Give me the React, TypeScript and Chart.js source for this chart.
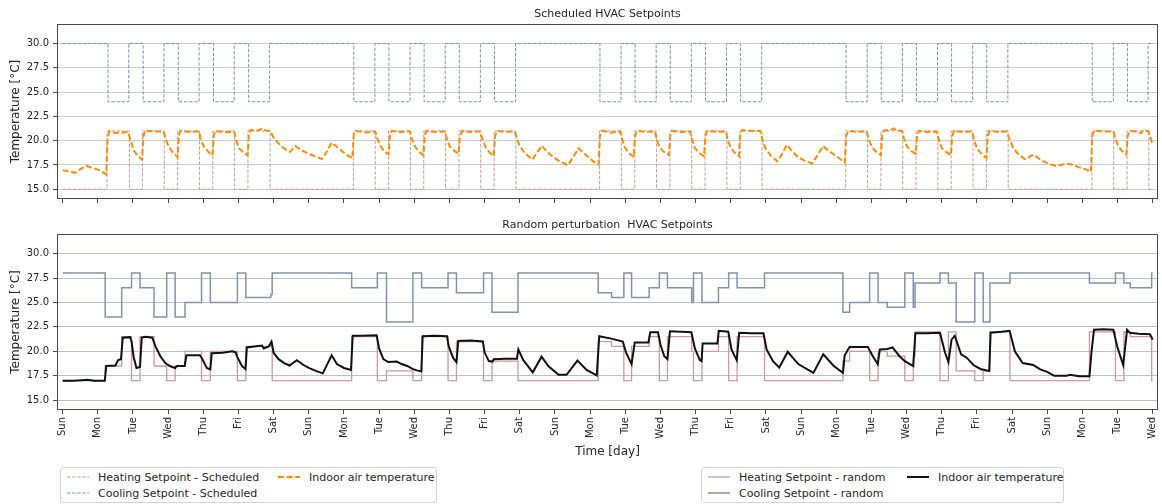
import React, { useEffect, useRef } from 'react';
import { Chart, registerables } from 'chart.js';

Chart.register(...registerables);

const FONT = "'DejaVu Sans', 'Liberation Sans', sans-serif";
const TEXT = '#262626';
const FRAME = '#4a4a4a';

// ---------- axis / tick data ----------
const dayTickLabels = [
  'Sun', 'Mon', 'Tue', 'Wed', 'Thu', 'Fri', 'Sat',
  'Sun', 'Mon', 'Tue', 'Wed', 'Thu', 'Fri', 'Sat',
  'Sun', 'Mon', 'Tue', 'Wed', 'Thu', 'Fri', 'Sat',
  'Sun', 'Mon', 'Tue', 'Wed', 'Thu', 'Fri', 'Sat',
  'Sun', 'Mon', 'Tue', 'Wed',
];
const tempTicks = [15, 17.5, 20, 22.5, 25, 27.5, 30];
const X_MIN = -0.16;
const X_MAX = 31.15;
const Y_MIN = 14;
const Y_MAX = 32;

// ---------- scheduled setpoints (time in days, value in °C) ----------
const heatSchedT = [0, 1.26, 1.9, 2.27, 2.89, 3.27, 3.89, 4.27, 4.89, 5.27, 5.9,
  8.27, 8.89, 9.27, 9.89, 10.27, 10.89, 11.27, 11.89, 12.27, 12.89,
  15.27, 15.89, 16.27, 16.89, 17.27, 17.89, 18.27, 18.89, 19.27, 19.89,
  22.27, 22.89, 23.27, 23.89, 24.27, 24.89, 25.27, 25.89, 26.27, 26.89,
  29.27, 29.89, 30.27, 30.89, 31.0];
const heatSchedV = [15, 21, 15, 21, 15, 21, 15, 21, 15, 21, 15,
  21, 15, 21, 15, 21, 15, 21, 15, 21, 15,
  21, 15, 21, 15, 21, 15, 21, 15, 21, 15,
  21, 15, 21, 15, 21, 15, 21, 15, 21, 15,
  21, 15, 21, 15, 15];
const coolSchedT = [0, 1.29, 1.88, 2.29, 2.88, 3.29, 3.88, 4.29, 4.88, 5.29, 5.88,
  8.28, 8.88, 9.28, 9.88, 10.28, 10.88, 11.28, 11.88, 12.28, 12.88,
  15.28, 15.88, 16.28, 16.88, 17.28, 17.88, 18.28, 18.88, 19.28, 19.88,
  22.28, 22.88, 23.28, 23.88, 24.28, 24.88, 25.28, 25.88, 26.28, 26.88,
  29.28, 29.88, 30.28, 30.87, 31.0];
const coolSchedV = [30, 24, 30, 24, 30, 24, 30, 24, 30, 24, 30,
  24, 30, 24, 30, 24, 30, 24, 30, 24, 30,
  24, 30, 24, 30, 24, 30, 24, 30, 24, 30,
  24, 30, 24, 30, 24, 30, 24, 30, 24, 30,
  24, 30, 24, 30, 30];

const indoorScheduled: number[][] = [
  [0, 16.97], [0.15, 16.85], [0.36, 16.7], [0.5, 17.05], [0.66, 17.43], [0.85, 17.2], [1.02, 17.0], [1.24, 16.55],
  [1.28, 20.3], [1.33, 20.95], [1.5, 20.8], [1.7, 20.85], [1.86, 20.9], [1.92, 20.2], [2.02, 19.0], [2.12, 18.5], [2.26, 18.05],
  [2.3, 20.5], [2.35, 21.0], [2.6, 20.95], [2.87, 20.95], [2.93, 20.2], [3.01, 19.45], [3.12, 18.85], [3.27, 18.3],
  [3.31, 20.6], [3.35, 21.0], [3.6, 20.9], [3.88, 20.95], [3.93, 20.1], [4.01, 19.45], [4.14, 18.85], [4.26, 18.5],
  [4.3, 20.5], [4.34, 21.0], [4.6, 20.85], [4.88, 20.9], [4.94, 20.0], [5.02, 19.2], [5.14, 18.8], [5.26, 18.5],
  [5.3, 20.6], [5.34, 21.1], [5.55, 21.05], [5.68, 21.25], [5.78, 21.05], [5.9, 21.0], [6.0, 20.3], [6.12, 19.8], [6.25, 19.35],
  [6.4, 18.95], [6.47, 18.85], [6.62, 19.45], [6.8, 19.0], [7.03, 18.6], [7.2, 18.35], [7.37, 18.1], [7.52, 18.9], [7.65, 19.8],
  [7.84, 19.25], [8.05, 18.6], [8.24, 18.2],
  [8.28, 20.6], [8.34, 21.0], [8.6, 20.85], [8.89, 20.95], [8.95, 20.2], [9.03, 19.5], [9.15, 18.9], [9.27, 18.6],
  [9.31, 20.6], [9.36, 21.0], [9.6, 20.9], [9.88, 20.95], [9.94, 20.1], [10.02, 19.4], [10.14, 18.85], [10.26, 18.5],
  [10.3, 20.6], [10.35, 21.0], [10.6, 20.9], [10.87, 20.95], [10.93, 20.1], [11.01, 19.4], [11.14, 18.95], [11.26, 18.65],
  [11.3, 20.5], [11.37, 21.0], [11.6, 20.9], [11.87, 20.95], [11.94, 20.1], [12.05, 19.2], [12.15, 18.75], [12.26, 18.4],
  [12.3, 20.5], [12.37, 21.0], [12.6, 20.9], [12.86, 20.95], [12.92, 20.2], [13.0, 19.45], [13.15, 18.7], [13.36, 18.05],
  [13.5, 18.8], [13.63, 19.5], [13.75, 18.95], [13.87, 18.55], [14.1, 17.95], [14.37, 17.47], [14.52, 18.3], [14.67, 19.22],
  [14.8, 18.8], [14.92, 18.4], [15.1, 17.85], [15.24, 17.55],
  [15.28, 20.5], [15.33, 21.0], [15.6, 20.85], [15.86, 20.95], [15.92, 20.1], [15.99, 19.3], [16.1, 18.75], [16.24, 18.3],
  [16.28, 20.5], [16.33, 21.0], [16.6, 20.9], [16.84, 20.95], [16.9, 20.1], [16.98, 19.3], [17.1, 18.85], [17.24, 18.5],
  [17.28, 20.5], [17.33, 21.0], [17.6, 20.9], [17.84, 20.95], [17.9, 20.1], [17.98, 19.25], [18.1, 18.75], [18.24, 18.4],
  [18.28, 20.5], [18.33, 21.0], [18.6, 20.9], [18.86, 20.95], [18.91, 20.2], [18.98, 19.45], [19.1, 18.8], [19.23, 18.4],
  [19.27, 20.6], [19.32, 21.1], [19.6, 21.0], [19.84, 21.0], [19.9, 20.1], [19.98, 19.25], [20.15, 18.4], [20.33, 17.88],
  [20.47, 18.7], [20.6, 19.58], [20.75, 18.9], [20.91, 18.3], [21.1, 17.95], [21.31, 17.65], [21.47, 18.5], [21.62, 19.45],
  [21.78, 18.95], [21.95, 18.55], [22.24, 17.75],
  [22.28, 20.5], [22.35, 21.0], [22.6, 20.9], [22.86, 20.95], [22.92, 20.2], [23.0, 19.45], [23.12, 18.9], [23.27, 18.5],
  [23.31, 20.6], [23.36, 21.05], [23.55, 21.1], [23.63, 21.25], [23.72, 21.05], [23.87, 21.0], [23.93, 20.2], [24.01, 19.4],
  [24.13, 18.95], [24.26, 18.65],
  [24.3, 20.5], [24.35, 21.0], [24.6, 20.9], [24.86, 20.95], [24.92, 20.1], [25.0, 19.25], [25.12, 18.85], [25.26, 18.5],
  [25.3, 20.5], [25.35, 21.0], [25.6, 20.9], [25.86, 20.95], [25.92, 20.1], [26.0, 19.2], [26.13, 18.65], [26.27, 18.2],
  [26.31, 20.5], [26.36, 21.0], [26.6, 20.9], [26.85, 20.95], [26.92, 20.2], [27.03, 19.25], [27.18, 18.6], [27.36, 18.1],
  [27.48, 18.3], [27.6, 18.57], [27.75, 18.2], [27.9, 17.87], [28.05, 17.6], [28.25, 17.38], [28.45, 17.55], [28.62, 17.63],
  [28.78, 17.45], [28.95, 17.2], [29.1, 17.05], [29.24, 16.8],
  [29.28, 20.5], [29.33, 21.0], [29.6, 20.95], [29.88, 20.95], [29.94, 20.2], [30.02, 19.45], [30.12, 18.95], [30.25, 18.6],
  [30.29, 20.5], [30.34, 21.0], [30.55, 20.95], [30.66, 20.75], [30.72, 21.0], [30.87, 21.0], [30.93, 20.4], [31.0, 19.56],
];

// ---------- random perturbation setpoints ----------
const randSetT = [0, 1.21, 1.68, 1.96, 2.2, 2.6, 2.96, 3.2, 3.48, 3.95, 4.2, 4.97, 5.21, 5.92, 5.96,
  8.22, 8.95, 9.21, 9.96, 10.21, 10.96, 11.2, 11.97, 12.21, 12.95,
  15.23, 15.61, 15.96, 16.18, 16.68, 16.97, 17.2, 17.89, 17.94, 18.18, 18.65, 18.94, 19.18, 19.96,
  22.19, 22.38, 22.95, 23.19, 23.45, 23.95, 24.19, 24.24, 24.95, 25.19, 25.41, 25.94, 26.18, 26.37, 26.94,
  29.2, 29.94, 30.18, 30.36, 30.97, 31.0];
const coolRandV = [28, 23.5, 26.5, 28, 26.5, 23.5, 28, 23.5, 25, 28, 25, 28, 25.5, 25.8, 28,
  26.5, 28, 23, 28, 26.5, 28, 26, 28, 24, 28,
  26, 25.5, 28, 25.5, 26.5, 28, 26.5, 25, 28, 25, 26.5, 28, 26.5, 28,
  24, 25, 28, 25, 24.5, 28, 24.5, 27, 28, 27, 23, 28, 23, 27, 28,
  27, 28, 27, 26.5, 28, 28];
const heatRandV = [17, 18.5, 21.5, 17, 21.5, 18.5, 17, 18.5, 20, 17, 20, 17, 20.5, 20.8, 17,
  21.5, 17, 18, 17, 21.5, 17, 21, 17, 19, 17,
  21, 20.5, 17, 20.5, 21.5, 17, 21.5, 20, 17, 20, 21.5, 17, 21.5, 17,
  19, 20, 17, 20, 19.5, 17, 19.5, 22, 17, 22, 18, 17, 18, 22, 17,
  22, 17, 22, 21.5, 17, 17];

const indoorRandom: number[][] = [
  [0, 17.0], [0.3, 16.98], [0.55, 17.05], [0.7, 17.1], [0.9, 17.0], [1.2, 17.0], [1.24, 18.5], [1.5, 18.55],
  [1.58, 19.1], [1.66, 19.2], [1.71, 21.4], [1.92, 21.45], [1.96, 21.0], [2.02, 19.4], [2.1, 18.3], [2.2, 18.4],
  [2.25, 21.4], [2.35, 21.5], [2.55, 21.4], [2.64, 20.5], [2.78, 19.5], [2.92, 18.8], [3.05, 18.5], [3.2, 18.3],
  [3.25, 18.5], [3.47, 18.5], [3.52, 19.6], [3.9, 19.6], [3.96, 19.3], [4.1, 18.3], [4.2, 18.15], [4.24, 19.8],
  [4.55, 19.85], [4.82, 20.0], [4.92, 19.9], [4.97, 19.4], [5.1, 18.5], [5.2, 18.2], [5.24, 20.4], [5.45, 20.5],
  [5.67, 20.6], [5.72, 20.3], [5.86, 20.5], [5.94, 21.0], [6.0, 19.85], [6.14, 19.2], [6.3, 18.8], [6.45, 18.55],
  [6.66, 19.1], [6.85, 18.6], [7.0, 18.3], [7.2, 18.0], [7.4, 17.75], [7.65, 19.6], [7.8, 18.7], [8.0, 18.3],
  [8.2, 18.1], [8.25, 21.6], [8.5, 21.6], [8.93, 21.65], [9.0, 20.3], [9.12, 19.2], [9.26, 18.9], [9.5, 18.95],
  [9.64, 18.7], [9.8, 18.5], [9.95, 18.2], [10.07, 18.05], [10.2, 17.95], [10.24, 21.55], [10.6, 21.6], [10.93, 21.55],
  [10.98, 20.5], [11.11, 19.3], [11.2, 18.9], [11.25, 21.05], [11.6, 21.1], [11.95, 21.0], [12.0, 19.9], [12.12, 19.0],
  [12.22, 18.95], [12.26, 19.2], [12.6, 19.25], [12.92, 19.25], [12.96, 20.2], [13.1, 19.1], [13.2, 18.65], [13.37, 17.85],
  [13.62, 19.45], [13.81, 18.5], [14.1, 17.6], [14.33, 17.6], [14.64, 19.05], [14.9, 18.1], [15.19, 17.55], [15.26, 21.55],
  [15.6, 21.3], [15.93, 21.0], [16.02, 19.9], [16.18, 18.7], [16.27, 20.9], [16.66, 20.9], [16.71, 21.95], [16.93, 21.95],
  [17.0, 20.7], [17.11, 19.5], [17.2, 19.2], [17.27, 22.05], [17.6, 22.0], [17.88, 21.95], [17.98, 20.3], [18.12, 19.1],
  [18.17, 19.0], [18.2, 20.8], [18.62, 20.8], [18.66, 22.1], [18.93, 22.0], [19.02, 20.2], [19.17, 19.1], [19.24, 21.9],
  [19.6, 21.85], [19.93, 21.85], [20.02, 20.2], [20.2, 19.0], [20.38, 18.35], [20.62, 19.95], [20.92, 18.7], [21.35, 17.8],
  [21.63, 19.7], [21.93, 18.5], [22.19, 17.8], [22.24, 19.6], [22.38, 20.45], [22.9, 20.45], [23.04, 19.5], [23.18, 18.7],
  [23.24, 20.2], [23.45, 20.25], [23.6, 20.4], [23.8, 19.5], [23.95, 19.0], [24.19, 18.5], [24.25, 21.85], [24.6, 21.85],
  [24.95, 21.9], [25.09, 19.9], [25.19, 18.9], [25.28, 21.2], [25.37, 21.6], [25.55, 19.7], [25.71, 19.35], [25.9, 18.6],
  [26.1, 18.2], [26.35, 18.0], [26.39, 21.9], [26.7, 22.0], [26.93, 22.1], [27.08, 20.0], [27.3, 18.8], [27.6, 18.6],
  [27.8, 18.15], [28.0, 17.9], [28.2, 17.5], [28.55, 17.5], [28.65, 17.6], [28.9, 17.45], [29.2, 17.45], [29.26, 20.0],
  [29.33, 22.2], [29.6, 22.25], [29.88, 22.2], [29.99, 20.5], [30.16, 18.6], [30.27, 22.2], [30.35, 21.9], [30.6, 21.8],
  [30.92, 21.75], [31.0, 21.2],
];

// ---------- colours ----------
const HEAT_COLOR = '#cc9a9a';
const COOL_COLOR = '#8293aa';
const ORANGE = '#ff8c00';
const BLACK = '#111111';

const toXY = (t: number[], v: number[]) => t.map((x, i) => ({ x, y: v[i] }));
const pairsXY = (p: number[][]) => p.map(([x, y]) => ({ x, y }));

const framePlugin = {
  id: 'frame',
  afterDatasetsDraw(chart: any) {
    const { ctx, chartArea } = chart;
    const l = Math.round(chartArea.left) + 0.5;
    const t = Math.round(chartArea.top) + 0.5;
    const r = Math.round(chartArea.right) - 0.5;
    const b = Math.round(chartArea.bottom) - 0.5;
    ctx.save();
    ctx.setLineDash([]);
    ctx.strokeStyle = FRAME;
    ctx.lineWidth = 1;
    ctx.strokeRect(l, t, r - l, b - t);
    ctx.restore();
  },
};

function xScale(showLabels: boolean, height: number) {
  return {
    type: 'linear',
    min: X_MIN,
    max: X_MAX,
    afterBuildTicks: (s: any) => {
      s.ticks = dayTickLabels.map((_, i) => ({ value: i }));
    },
    afterFit: (s: any) => {
      s.height = height;
      s.paddingLeft = 0;
      s.paddingRight = 0;
    },
    grid: { display: true, drawOnChartArea: false, drawTicks: true, tickLength: 4, tickColor: FRAME, tickWidth: 1 },
    border: { display: false },
    ticks: {
      display: showLabels,
      autoSkip: false,
      minRotation: 90,
      maxRotation: 90,
      padding: 3,
      font: { family: FONT, size: 10 },
      color: TEXT,
      callback: (v: any) => dayTickLabels[Math.round(Number(v))] ?? '',
    },
    title: showLabels
      ? { display: true, text: 'Time [day]', font: { family: FONT, size: 12 }, color: TEXT, padding: { top: 0, bottom: 6 } }
      : { display: false },
  };
}

function yScale(gridColor: string) {
  return {
    type: 'linear',
    min: Y_MIN,
    max: Y_MAX,
    afterBuildTicks: (s: any) => {
      s.ticks = tempTicks.map((v) => ({ value: v }));
    },
    afterFit: (s: any) => {
      s.width = 57;
      s.paddingTop = 0;
      s.paddingBottom = 0;
    },
    grid: { color: gridColor, lineWidth: 1, drawTicks: true, tickLength: 4, tickColor: FRAME },
    border: { display: false },
    ticks: {
      padding: 4,
      font: { family: FONT, size: 10 },
      color: TEXT,
      callback: (v: any) => Number(v).toFixed(1),
    },
    title: {
      display: true,
      text: 'Temperature [°C]',
      font: { family: FONT, size: 12 },
      color: TEXT,
      padding: { top: 9, bottom: 0 },
    },
  };
}

function baseOptions(title: string, titlePad: { top: number; bottom: number }, xs: any, ys: any) {
  return {
    animation: false,
    responsive: false,
    maintainAspectRatio: false,
    devicePixelRatio: 1,
    layout: { padding: { left: 0, right: 4, top: 0, bottom: 0 } },
    plugins: {
      legend: { display: false },
      tooltip: { enabled: false },
      title: {
        display: true,
        text: title,
        fullSize: false,
        font: { family: FONT, size: 11, weight: 'normal' },
        color: TEXT,
        padding: titlePad,
      },
    },
    elements: { point: { radius: 0 }, line: { tension: 0 } },
    scales: { x: xs, y: ys },
  };
}

type LegendEntry = { label: string; color: string; width: number; dash?: string; col: number; row: number };

const scheduledLegend: LegendEntry[] = [
  { label: 'Heating Setpoint - Scheduled', color: HEAT_COLOR, width: 1, dash: '3.5 1.6', col: 0, row: 0 },
  { label: 'Cooling Setpoint - Scheduled', color: COOL_COLOR, width: 1, dash: '3.5 1.6', col: 0, row: 1 },
  { label: 'Indoor air temperature', color: ORANGE, width: 2, dash: '6 2.6', col: 1, row: 0 },
];
const randomLegend: LegendEntry[] = [
  { label: 'Heating Setpoint - random', color: HEAT_COLOR, width: 1.3, col: 0, row: 0 },
  { label: 'Cooling Setpoint - random', color: COOL_COLOR, width: 1.5, col: 0, row: 1 },
  { label: 'Indoor air temperature', color: BLACK, width: 2, col: 1, row: 0 },
];

function LegendBox({ left, width, items, colX }: { left: number; width: number; items: LegendEntry[]; colX: number[] }) {
  return (
    <div
      style={{
        position: 'absolute',
        left,
        top: 467,
        width,
        height: 36,
        border: '1px solid #d4d4d4',
        borderRadius: 3,
        boxSizing: 'border-box',
        background: '#fff',
      }}
    >
      {items.map((it, i) => {
        const x = colX[it.col];
        const y = it.row === 0 ? 9 : 25;
        return (
          <React.Fragment key={i}>
            <svg style={{ position: 'absolute', left: x, top: y - 3 }} width={22} height={6}>
              <line x1={0} y1={3} x2={22} y2={3} stroke={it.color} strokeWidth={it.width} strokeDasharray={it.dash} />
            </svg>
            <span
              style={{
                position: 'absolute',
                left: x + 31,
                top: y,
                transform: 'translateY(-50%)',
                fontFamily: FONT,
                fontSize: 11,
                lineHeight: '13px',
                whiteSpace: 'pre',
                color: TEXT,
              }}
            >
              {it.label}
            </span>
          </React.Fragment>
        );
      })}
    </div>
  );
}

export default function App() {
  const topRef = useRef<HTMLCanvasElement>(null);
  const botRef = useRef<HTMLCanvasElement>(null);

  useEffect(() => {
    const top = new Chart(topRef.current as HTMLCanvasElement, {
      type: 'line',
      data: {
        datasets: [
          {
            label: 'Indoor air temperature',
            data: pairsXY(indoorScheduled),
            borderColor: ORANGE,
            borderWidth: 2,
            borderDash: [6, 2.6],
            pointRadius: 0,
            fill: false,
          },
          {
            label: 'Heating Setpoint - Scheduled',
            data: toXY(heatSchedT, heatSchedV),
            borderColor: HEAT_COLOR,
            borderWidth: 1,
            borderDash: [3.5, 1.6],
            stepped: true,
            pointRadius: 0,
            fill: false,
          },
          {
            label: 'Cooling Setpoint - Scheduled',
            data: toXY(coolSchedT, coolSchedV),
            borderColor: COOL_COLOR,
            borderWidth: 1,
            borderDash: [3.5, 1.6],
            stepped: true,
            pointRadius: 0,
            fill: false,
          },
        ],
      },
      options: baseOptions('Scheduled HVAC Setpoints', { top: 7.4, bottom: 3.4 }, xScale(false, 6), yScale('#cdcdcd')) as any,
      plugins: [framePlugin],
    });

    const bot = new Chart(botRef.current as HTMLCanvasElement, {
      type: 'line',
      data: {
        datasets: [
          {
            label: 'Indoor air temperature',
            data: pairsXY(indoorRandom),
            borderColor: BLACK,
            borderWidth: 2,
            pointRadius: 0,
            fill: false,
          },
          {
            label: 'Heating Setpoint - random',
            data: toXY(randSetT, heatRandV),
            borderColor: HEAT_COLOR,
            borderWidth: 1.3,
            stepped: true,
            pointRadius: 0,
            fill: false,
          },
          {
            label: 'Cooling Setpoint - random',
            data: toXY(randSetT, coolRandV),
            borderColor: COOL_COLOR,
            borderWidth: 1.5,
            stepped: true,
            pointRadius: 0,
            fill: false,
          },
        ],
      },
      options: baseOptions('Random perturbation  HVAC Setpoints', { top: 13.4, bottom: 2.4 }, xScale(true, 55), yScale('#bcc1c9')) as any,
      plugins: [framePlugin],
    });

    return () => {
      top.destroy();
      bot.destroy();
    };
  }, []);

  return (
    <div style={{ position: 'absolute', left: 0, top: 0, width: 1162, height: 504, background: '#fff', overflow: 'hidden' }}>
      <canvas
        ref={topRef}
        width={1162}
        height={205}
        style={{ position: 'absolute', left: 0, top: 0, width: 1162, height: 205 }}
      />
      <canvas
        ref={botRef}
        width={1162}
        height={260}
        style={{ position: 'absolute', left: 0, top: 205, width: 1162, height: 260 }}
      />
      <LegendBox left={60} width={377} items={scheduledLegend} colX={[6, 217]} />
      <LegendBox left={701} width={363} items={randomLegend} colX={[6, 205]} />
    </div>
  );
}
